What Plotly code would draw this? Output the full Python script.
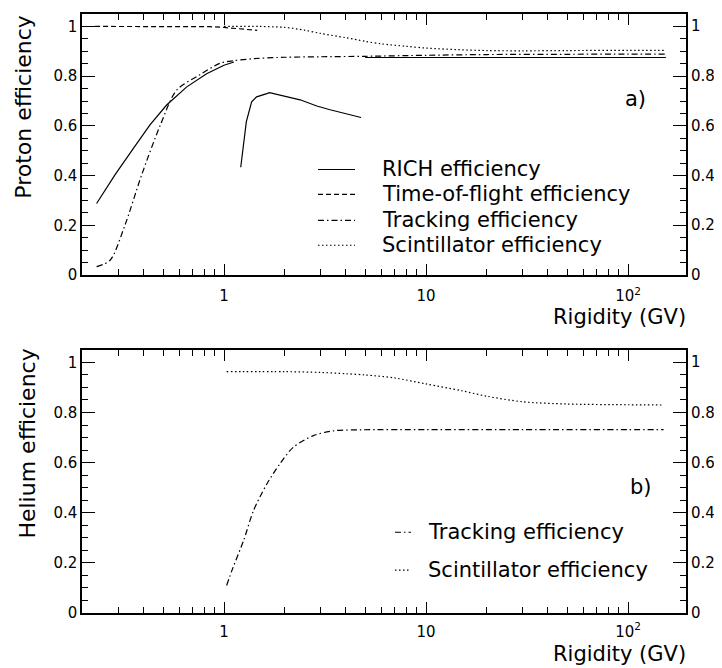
import plotly.graph_objects as go

# ---------------- data ----------------
# Panel a) : protons
rich_x = [0.234, 0.289, 0.356, 0.43, 0.52, 0.654, 0.82, 1.0, 1.12, None,
          1.21, 1.25, 1.29, 1.37, 1.45, 1.63, 1.68, 2.38, 2.88, 3.35, 4.0, 4.77, None,
          5.0, 10, 50, 154]
rich_y = [0.288, 0.404, 0.51, 0.604, 0.684, 0.757, 0.81, 0.844, 0.857, None,
          0.434, 0.537, 0.617, 0.697, 0.717, 0.730, 0.734, 0.705, 0.68, 0.665, 0.648, 0.634, None,
          0.875, 0.875, 0.875, 0.875]

tof_x = [0.23, 0.4, 0.6, 0.85, 1.0, 1.2, 1.46]
tof_y = [1.0, 1.0, 1.0, 0.999, 0.996, 0.99, 0.984]

trk_p_x = [0.234, 0.273, 0.323, 0.39, 0.482, 0.583, 0.76, 0.955, 1.11, 1.5, 2, 3, 5, 10, 20, 50, 100, 154]
trk_p_y = [0.034, 0.06, 0.2, 0.4, 0.6, 0.744, 0.806, 0.852, 0.862, 0.872, 0.876, 0.878, 0.88, 0.884, 0.887, 0.888, 0.889, 0.889]

sci_p_x = [1.0, 1.5, 2, 2.5, 3, 4, 5, 6, 8, 10, 15, 20, 30, 50, 100, 154]
sci_p_y = [1.0, 1.0, 0.996, 0.985, 0.972, 0.955, 0.94, 0.93, 0.92, 0.913, 0.906, 0.903, 0.902, 0.903, 0.904, 0.904]

# Panel b) : helium
trk_h_x = [1.03, 1.11, 1.25, 1.40, 1.63, 1.89, 2.20, 2.77, 3.48, 4.77, 10, 30, 100, 150]
trk_h_y = [0.11, 0.183, 0.289, 0.409, 0.515, 0.595, 0.661, 0.708, 0.727, 0.731, 0.732, 0.732, 0.732, 0.732]

sci_h_x = [1.03, 2, 3, 4, 5, 7, 10, 15, 20, 30, 50, 100, 150]
sci_h_y = [0.963, 0.963, 0.960, 0.955, 0.950, 0.938, 0.914, 0.887, 0.865, 0.843, 0.834, 0.831, 0.830]

legend_a = ["RICH efficiency", "Time-of-flight efficiency", "Tracking efficiency", "Scintillator efficiency"]
legend_b = ["Tracking efficiency", "Scintillator efficiency"]

x_tickvals = [1, 10, 100]
x_ticktext = ["1", "10", "10<sup>2</sup>"]
x_minor = [0.2, 0.3, 0.4, 0.5, 0.6, 0.7, 0.8, 0.9, 2, 3, 4, 5, 6, 7, 8, 9,
           20, 30, 40, 50, 60, 70, 80, 90]
y_tickvals = [0, 0.2, 0.4, 0.6, 0.8, 1.0]

# ---------------- styles ----------------
FONT = "DejaVu Sans"
SOLID = "solid"
DASH = "5px,3px"
DASHDOT = "6px,3px,1.5px,3px"
DOT = "1.5px,2.5px"
LW = 1.2

fig = go.Figure()


def add(x, y, dash, xa, ya, shape="linear"):
    fig.add_trace(go.Scatter(
        x=x, y=y, mode="lines", xaxis=xa, yaxis=ya, showlegend=False,
        connectgaps=False, hoverinfo="skip",
        line=dict(color="black", width=LW, dash=dash, shape=shape, smoothing=0.8)))


add(rich_x, rich_y, SOLID, "x", "y")
add(tof_x, tof_y, DASH, "x", "y")
add(trk_p_x, trk_p_y, DASHDOT, "x", "y", "spline")
add(sci_p_x, sci_p_y, DOT, "x", "y", "spline")
add(trk_h_x, trk_h_y, DASHDOT, "x2", "y2", "spline")
add(sci_h_x, sci_h_y, DOT, "x2", "y2", "spline")

tickfont = dict(family=FONT, size=15, color="black")

xc = dict(type="log", range=[-0.703, 2.287], showline=True, linecolor="black", linewidth=1.5,
          mirror="ticks", ticks="inside", ticklen=11, tickwidth=1, tickcolor="black",
          tickvals=x_tickvals, ticktext=x_ticktext,
          minor=dict(tickvals=x_minor, ticks="inside", ticklen=6, tickwidth=1,
                     tickcolor="black"),
          showgrid=False, tickfont=tickfont)
yc = dict(range=[0, 1.05], tickvals=y_tickvals, showline=True, linecolor="black",
          linewidth=1.5, mirror="ticks", ticks="inside", ticklen=13, tickwidth=1,
          tickcolor="black",
          minor=dict(dtick=0.05, tick0=0, ticks="inside", ticklen=6, tickwidth=1,
                     tickcolor="black"),
          showgrid=False, zeroline=False, tickfont=tickfont)

# plot areas: x 82-686, top panel y 12-274, bottom panel y 349-613 (page pixels)
fig.update_layout(
    width=714, height=660,
    margin=dict(l=74, r=36, t=4, b=55),
    paper_bgcolor="white", plot_bgcolor="white", showlegend=False,
    xaxis=dict(xc, anchor="y", ticklabelstandoff=6),
    yaxis=dict(yc, anchor="x", domain=[(613 - 274) / 601, 1.0]),
    xaxis2=dict(xc, anchor="y2", ticklabelstandoff=4),
    yaxis2=dict(yc, anchor="x2", domain=[0.0, (613 - 349) / 601]),
)

tfont = dict(family=FONT, size=21, color="black")
afont = dict(family=FONT, size=22, color="black")
ann = []
# right-hand tick labels
for xd, yd in (("x domain", "y"), ("x2 domain", "y2")):
    for v in y_tickvals:
        ann.append(dict(text=f"{v:g}", xref=xd, yref=yd, x=1, y=v, xanchor="left",
                        yanchor="middle", xshift=3, showarrow=False, font=tickfont))
# axis titles
ann.append(dict(text="Proton efficiency", xref="paper", yref="paper", x=(24 - 82) / 604,
                y=(613 - 105) / 601, xanchor="center", yanchor="middle", textangle=-90,
                showarrow=False, font=afont))
ann.append(dict(text="Helium efficiency", xref="paper", yref="paper", x=(28 - 82) / 604,
                y=(613 - 443) / 601, xanchor="center", yanchor="middle", textangle=-90,
                showarrow=False, font=afont))
ann.append(dict(text="Rigidity (GV)", xref="paper", yref="paper", x=(688 - 82) / 604,
                y=(613 - 316) / 601, xanchor="right", yanchor="middle",
                showarrow=False, font=tfont))
ann.append(dict(text="Rigidity (GV)", xref="paper", yref="paper", x=(688 - 82) / 604,
                y=(613 - 654) / 601, xanchor="right", yanchor="middle",
                showarrow=False, font=tfont))
# panel labels
ann.append(dict(text="a)", xref="x domain", yref="y domain", x=(635 - 82) / 604,
                y=(274 - 97) / 262, xanchor="center", yanchor="middle",
                showarrow=False, font=tfont))
ann.append(dict(text="b)", xref="x2 domain", yref="y2 domain", x=(641 - 82) / 604,
                y=(613 - 487) / 264, xanchor="center", yanchor="middle",
                showarrow=False, font=tfont))

shapes = []
rows_a = [168, 193, 219, 244]
dashes_a = [SOLID, DASH, DASHDOT, DOT]
for name, py, d in zip(legend_a, rows_a, dashes_a):
    yy = (274 - py) / 262
    shapes.append(dict(type="line", xref="x domain", yref="y domain",
                       x0=(318 - 82) / 604, x1=(355 - 82) / 604, y0=yy, y1=yy,
                       line=dict(color="black", width=LW, dash=d)))
    ann.append(dict(text=name, xref="x domain", yref="y domain", x=(380 - 82) / 604,
                    y=yy, xanchor="left", yanchor="middle", showarrow=False, font=tfont))
rows_b = [532, 570]
dashes_b = [DASHDOT, DOT]
for name, py, d in zip(legend_b, rows_b, dashes_b):
    yy = (613 - py) / 264
    shapes.append(dict(type="line", xref="x2 domain", yref="y2 domain",
                       x0=(395 - 82) / 604, x1=(411 - 82) / 604, y0=yy, y1=yy,
                       line=dict(color="black", width=LW, dash=d)))
    ann.append(dict(text=name, xref="x2 domain", yref="y2 domain", x=(426 - 82) / 604,
                    y=yy, xanchor="left", yanchor="middle", showarrow=False, font=tfont))

fig.update_layout(annotations=ann, shapes=shapes)

fig.write_html("out.html")
